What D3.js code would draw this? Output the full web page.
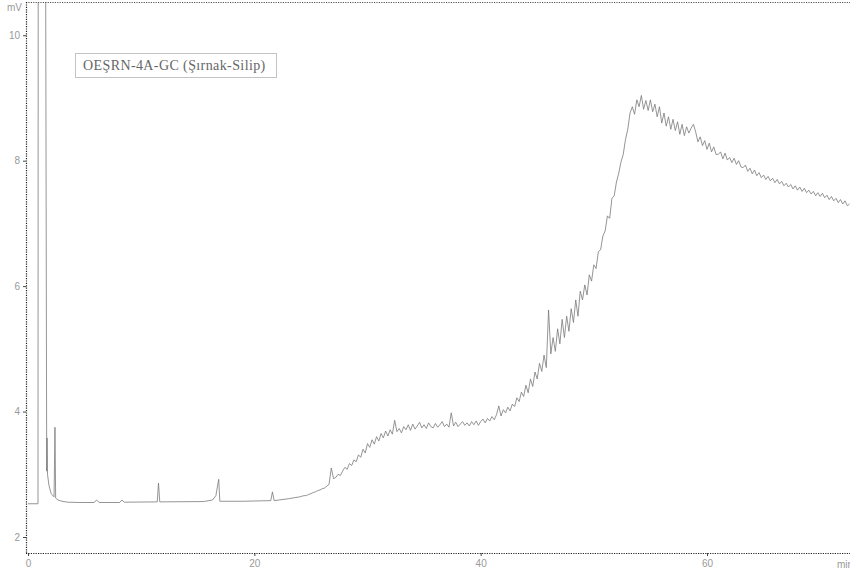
<!DOCTYPE html>
<html>
<head>
<meta charset="utf-8">
<script src="https://cdn.jsdelivr.net/npm/d3@7"></script>
<style>
  html, body { margin: 0; padding: 0; background: #fff; }
  svg { display: block; }
</style>
</head>
<body>
<svg id="chart" width="850" height="575"></svg>
<script>
// Chromatogram: detector signal (mV) against retention time (min)
const sampleName = "OEŞRN-4A-GC (Şırnak-Silip)";
const yTicks = [2, 4, 6, 8, 10];
const xTicks = [0, 20, 40, 60];
const yUnit = "mV";
const xUnit = "min";

// Start of run: solvent front and the small early peaks, [min, mV]
const earlyTrace = [
  [0.0, 2.53], [0.88, 2.53], [0.9, 11.5], [1.55, 11.5], [1.65, 3.05],
  [1.68, 3.58], [1.72, 3.0], [1.85, 2.82], [2.05, 2.69], [2.3, 2.64],
  [2.38, 3.75], [2.44, 2.62], [2.65, 2.59], [3.0, 2.57], [3.5, 2.555],
  [4.5, 2.55], [5.85, 2.55], [6.05, 2.59], [6.3, 2.55], [8.1, 2.55],
  [8.3, 2.59], [8.5, 2.555], [11.42, 2.56], [11.53, 2.86], [11.64, 2.56],
  [15.5, 2.565], [16.3, 2.59], [16.6, 2.66], [16.85, 2.92], [16.95, 2.57],
  [19.0, 2.57], [21.45, 2.58], [21.6, 2.72], [21.75, 2.58], [23.0, 2.61]
];

// Baseline hump and column bleed, sampled every 0.2 min from 24 min
const bleedStart = 24.0;
const bleedStep = 0.2;
const bleedSignal = [
  2.64, 2.65, 2.66, 2.66, 2.68,   // 24
  2.69, 2.71, 2.72, 2.74, 2.75,   // 25
  2.77, 2.78, 2.81, 2.84, 3.10,   // 26
  2.93, 2.95, 3.00, 2.98, 3.05,   // 27
  3.11, 3.08, 3.17, 3.14, 3.23,   // 28
  3.20, 3.31, 3.27, 3.40, 3.34,   // 29
  3.49, 3.43, 3.55, 3.48, 3.60,   // 30
  3.53, 3.65, 3.58, 3.69, 3.61,   // 31
  3.71, 3.64, 3.86, 3.68, 3.73,   // 32
  3.66, 3.76, 3.71, 3.79, 3.70,   // 33
  3.80, 3.72, 3.77, 3.83, 3.74,   // 34
  3.79, 3.73, 3.82, 3.76, 3.74,   // 35
  3.81, 3.75, 3.79, 3.84, 3.76,   // 36
  3.80, 3.75, 3.98, 3.77, 3.83,   // 37
  3.76, 3.80, 3.84, 3.78, 3.82,   // 38
  3.77, 3.84, 3.79, 3.85, 3.78,   // 39
  3.84, 3.88, 3.82, 3.89, 3.85,   // 40
  3.92, 3.87, 3.95, 4.09, 3.93,   // 41
  4.03, 3.98, 4.07, 4.01, 4.12,   // 42
  4.08, 4.22, 4.16, 4.31, 4.24,   // 43
  4.42, 4.30, 4.52, 4.40, 4.63,   // 44
  4.52, 4.77, 4.64, 4.90, 4.70,   // 45
  5.62, 4.92, 5.18, 4.96, 5.32,   // 46
  5.08, 5.47, 5.18, 5.52, 5.28,   // 47
  5.64, 5.42, 5.78, 5.52, 5.92,   // 48
  5.78, 6.02, 5.86, 6.18, 6.08,   // 49
  6.34, 6.28, 6.55, 6.58, 6.80,   // 50
  6.88, 7.12, 7.08, 7.40, 7.44,   // 51
  7.66, 7.80, 7.98, 8.10, 8.34,   // 52
  8.50, 8.76, 8.86, 8.74, 8.97,   // 53
  8.86, 9.04, 8.82, 8.96, 8.80,   // 54
  8.97, 8.78, 8.90, 8.70, 8.86,   // 55
  8.60, 8.76, 8.55, 8.70, 8.50,   // 56
  8.66, 8.48, 8.62, 8.42, 8.58,   // 57
  8.40, 8.54, 8.44, 8.52, 8.58,   // 58
  8.46, 8.30, 8.38, 8.24, 8.32,   // 59
  8.18, 8.28, 8.14, 8.22, 8.10,   // 60
  8.10, 8.14, 8.03, 8.12, 8.01,   // 61
  8.05, 7.97, 8.04, 7.94, 8.00,   // 62
  7.90, 7.89, 7.93, 7.83, 7.88,   // 63
  7.79, 7.85, 7.76, 7.81, 7.73,   // 64
  7.77, 7.70, 7.75, 7.68, 7.72,   // 65
  7.65, 7.70, 7.63, 7.67, 7.60,   // 66
  7.64, 7.58, 7.62, 7.55, 7.60,   // 67
  7.53, 7.58, 7.51, 7.56, 7.49,   // 68
  7.53, 7.47, 7.51, 7.44, 7.49,   // 69
  7.43, 7.48, 7.41, 7.45, 7.38,   // 70
  7.43, 7.36, 7.40, 7.33, 7.38,   // 71
  7.31, 7.36, 7.28, 7.31          // 72
];

const svg = d3.select("#chart");
const W = 850, H = 575;
const plot = { left: 26, right: 849, top: 2, bottom: 553 };

const x = d3.scaleLinear().domain([-0.18, 72.55]).range([plot.left, plot.right]);
const y = d3.scaleLinear().domain([1.745, 10.53]).range([plot.bottom, plot.top]);

const trace = earlyTrace.concat(
  bleedSignal.map((v, i) => [bleedStart + i * bleedStep, v])
);

svg.append("defs").append("clipPath").attr("id", "plotClip")
  .append("rect")
  .attr("x", plot.left).attr("y", plot.top)
  .attr("width", W - plot.left).attr("height", plot.bottom - plot.top);

// signal trace
const line = d3.line().x(d => x(d[0])).y(d => y(d[1]));
svg.append("path")
  .datum(trace)
  .attr("clip-path", "url(#plotClip)")
  .attr("fill", "none")
  .attr("stroke", "#7a7a7a")
  .attr("stroke-width", 0.8)
  .attr("stroke-linejoin", "round")
  .attr("d", line);

// frame: dotted top edge and axis lines
const dotted = "1.2,1.2";
svg.append("line")
  .attr("x1", plot.left).attr("x2", W).attr("y1", plot.top + 0.5).attr("y2", plot.top + 0.5)
  .attr("stroke", "#555").attr("stroke-width", 1).attr("stroke-dasharray", dotted);

const tickFont = "'Liberation Sans', Arial, sans-serif";

const yAxis = svg.append("g")
  .attr("transform", `translate(${plot.left},0)`)
  .call(d3.axisLeft(y).tickValues(yTicks).tickSize(3).tickPadding(3).tickFormat(d3.format("d")));
const xAxis = svg.append("g")
  .attr("transform", `translate(0,${plot.bottom})`)
  .call(d3.axisBottom(x).tickValues(xTicks).tickSize(3).tickPadding(4).tickFormat(d3.format("d")));

[yAxis, xAxis].forEach(g => {
  g.select(".domain").remove();
  g.selectAll(".tick line").attr("stroke", "#444");
  g.selectAll(".tick text")
    .attr("fill", "#999")
    .style("font-family", tickFont)
    .style("font-size", "10px");
});

svg.append("line")
  .attr("x1", plot.left + 0.5).attr("x2", plot.left + 0.5)
  .attr("y1", plot.top).attr("y2", plot.bottom)
  .attr("stroke", "#222").attr("stroke-width", 1.2).attr("stroke-dasharray", dotted);
svg.append("line")
  .attr("x1", plot.left).attr("x2", W)
  .attr("y1", plot.bottom + 0.5).attr("y2", plot.bottom + 0.5)
  .attr("stroke", "#222").attr("stroke-width", 1.2).attr("stroke-dasharray", dotted);

// unit labels (the time unit runs off the right edge of the frame)
svg.append("text")
  .attr("x", plot.left - 4).attr("y", 11)
  .attr("text-anchor", "end")
  .attr("fill", "#999")
  .style("font-family", tickFont).style("font-size", "10px")
  .text(yUnit);
svg.append("text")
  .attr("x", 837).attr("y", 568)
  .attr("fill", "#999")
  .style("font-family", tickFont).style("font-size", "10px")
  .text(xUnit);

// sample name box
const label = svg.append("g");
label.append("rect")
  .attr("x", 75.5).attr("y", 53.5).attr("width", 201).attr("height", 24)
  .attr("fill", "none").attr("stroke", "#888").attr("stroke-width", 1)
  .attr("stroke-dasharray", "1,1");
label.append("text")
  .attr("x", 83).attr("y", 69.5)
  .attr("fill", "#666")
  .style("font-family", "'Liberation Serif', 'Times New Roman', serif")
  .style("font-size", "14px")
  .style("letter-spacing", "0.4px")
  .text(sampleName);
</script>
</body>
</html>
